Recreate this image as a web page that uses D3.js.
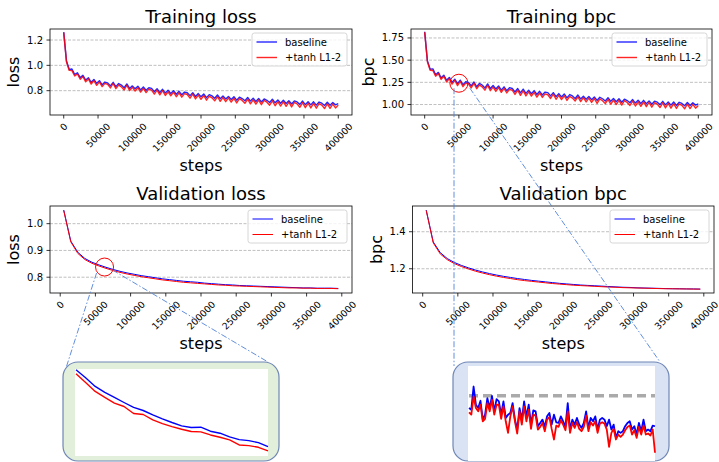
<!DOCTYPE html>
<html>
<head>
<meta charset="utf-8">
<script src="https://cdn.jsdelivr.net/npm/d3@7"></script>
<style>
  body { margin: 0; background: #fff; }
  svg { font-family: "DejaVu Sans", sans-serif; }
</style>
</head>
<body>
<svg id="fig" width="719" height="462"></svg>
<script>
// ---- data ----
const seriesNames = ["baseline", "+tanh L1-2"];
const seriesColors = ["#0000ff", "#ff0000"];

// training curves, one point every 4000 steps from 0 to 400000
const trainSteps = d3.range(0, 400001, 4000);

const trainLossBase = [
  1.262, 1.035, 0.968, 0.971, 0.928, 0.941, 0.903, 0.921, 0.884, 0.902,
  0.866, 0.889, 0.858, 0.879, 0.846, 0.868, 0.861, 0.838, 0.866, 0.832,
  0.856, 0.844, 0.823, 0.853, 0.818, 0.838, 0.815, 0.835, 0.806, 0.829,
  0.803, 0.823, 0.818, 0.792, 0.816, 0.785, 0.811, 0.781, 0.803, 0.778,
  0.800, 0.772, 0.795, 0.768, 0.789, 0.784, 0.761, 0.784, 0.754, 0.777,
  0.752, 0.774, 0.745, 0.769, 0.759, 0.740, 0.766, 0.737, 0.758, 0.734,
  0.755, 0.731, 0.752, 0.725, 0.749, 0.738, 0.721, 0.746, 0.718, 0.740,
  0.715, 0.738, 0.711, 0.735, 0.724, 0.707, 0.732, 0.704, 0.726, 0.701,
  0.725, 0.699, 0.721, 0.695, 0.719, 0.711, 0.692, 0.718, 0.690, 0.713,
  0.688, 0.712, 0.686, 0.710, 0.701, 0.683, 0.709, 0.685, 0.706, 0.688, 0.698
];
const trainLossTanh = [
  1.258, 1.028, 0.960, 0.958, 0.916, 0.932, 0.890, 0.912, 0.870, 0.893,
  0.852, 0.880, 0.842, 0.870, 0.832, 0.858, 0.850, 0.822, 0.857, 0.816,
  0.845, 0.830, 0.806, 0.843, 0.801, 0.826, 0.797, 0.824, 0.789, 0.818,
  0.785, 0.812, 0.804, 0.773, 0.805, 0.767, 0.800, 0.762, 0.791, 0.760,
  0.789, 0.752, 0.783, 0.749, 0.777, 0.770, 0.741, 0.773, 0.735, 0.765,
  0.732, 0.762, 0.725, 0.757, 0.744, 0.720, 0.754, 0.716, 0.746, 0.713,
  0.743, 0.710, 0.740, 0.703, 0.737, 0.723, 0.700, 0.734, 0.696, 0.728,
  0.693, 0.726, 0.689, 0.723, 0.709, 0.685, 0.720, 0.681, 0.714, 0.679,
  0.713, 0.676, 0.709, 0.672, 0.707, 0.696, 0.669, 0.706, 0.666, 0.701,
  0.664, 0.700, 0.662, 0.698, 0.686, 0.659, 0.697, 0.661, 0.694, 0.664, 0.686
];
const trainBpcBase = [
  1.820, 1.492, 1.398, 1.402, 1.336, 1.362, 1.301, 1.331, 1.274, 1.305,
  1.250, 1.286, 1.236, 1.275, 1.223, 1.257, 1.248, 1.211, 1.254, 1.200,
  1.238, 1.220, 1.186, 1.232, 1.180, 1.214, 1.175, 1.209, 1.162, 1.199,
  1.156, 1.190, 1.181, 1.141, 1.180, 1.132, 1.173, 1.126, 1.161, 1.122,
  1.157, 1.113, 1.149, 1.107, 1.140, 1.134, 1.097, 1.134, 1.088, 1.123,
  1.085, 1.119, 1.075, 1.112, 1.097, 1.068, 1.107, 1.063, 1.094, 1.059,
  1.090, 1.055, 1.086, 1.046, 1.082, 1.065, 1.040, 1.077, 1.036, 1.068,
  1.032, 1.065, 1.026, 1.061, 1.045, 1.020, 1.056, 1.016, 1.048, 1.012,
  1.047, 1.009, 1.041, 1.003, 1.038, 1.026, 0.999, 1.036, 0.996, 1.029,
  0.993, 1.028, 0.990, 1.025, 1.012, 0.986, 1.023, 0.989, 1.019, 0.993, 1.007
];
const trainBpcTanh = [
  1.815, 1.482, 1.386, 1.384, 1.319, 1.349, 1.283, 1.318, 1.254, 1.292,
  1.230, 1.273, 1.213, 1.261, 1.201, 1.242, 1.231, 1.187, 1.241, 1.178,
  1.222, 1.199, 1.162, 1.217, 1.156, 1.196, 1.148, 1.192, 1.137, 1.182,
  1.131, 1.171, 1.161, 1.114, 1.162, 1.104, 1.155, 1.097, 1.142, 1.095,
  1.138, 1.084, 1.130, 1.080, 1.120, 1.110, 1.068, 1.116, 1.059, 1.104,
  1.056, 1.099, 1.046, 1.092, 1.073, 1.040, 1.088, 1.033, 1.077, 1.029,
  1.072, 1.024, 1.068, 1.014, 1.064, 1.043, 1.010, 1.059, 1.005, 1.050,
  1.000, 1.047, 0.994, 1.043, 1.023, 0.989, 1.039, 0.983, 1.030, 0.980,
  1.029, 0.976, 1.023, 0.970, 1.020, 1.005, 0.966, 1.019, 0.962, 1.012,
  0.959, 1.010, 0.956, 1.007, 0.990, 0.952, 1.006, 0.955, 1.001, 0.959, 0.990
];

// validation curves, every 10000 steps from 5000 to 395000
const valSteps = d3.range(5000, 395001, 10000);

const valLossBase = [
  1.051, 0.935, 0.893, 0.870, 0.856, 0.846, 0.837, 0.829, 0.822, 0.816,
  0.811, 0.806, 0.802, 0.798, 0.794, 0.791, 0.788, 0.785, 0.783, 0.781,
  0.778, 0.776, 0.774, 0.772, 0.771, 0.769, 0.768, 0.767, 0.766, 0.765,
  0.764, 0.763, 0.762, 0.761, 0.760, 0.760, 0.759, 0.759, 0.759, 0.758
];
const valLossTanh = [
  1.049, 0.932, 0.889, 0.866, 0.852, 0.842, 0.833, 0.825, 0.818, 0.812,
  0.807, 0.802, 0.798, 0.794, 0.790, 0.787, 0.784, 0.781, 0.779, 0.777,
  0.775, 0.773, 0.771, 0.770, 0.768, 0.767, 0.766, 0.765, 0.764, 0.763,
  0.762, 0.761, 0.760, 0.760, 0.759, 0.759, 0.758, 0.758, 0.758, 0.757
];
const valBpcBase = [
  1.517, 1.345, 1.287, 1.255, 1.234, 1.218, 1.205, 1.193, 1.183, 1.174,
  1.166, 1.159, 1.153, 1.147, 1.142, 1.137, 1.133, 1.129, 1.125, 1.121,
  1.118, 1.115, 1.112, 1.110, 1.108, 1.106, 1.104, 1.102, 1.100, 1.099,
  1.097, 1.096, 1.095, 1.094, 1.093, 1.092, 1.092, 1.091, 1.091, 1.090
];
const valBpcTanh = [
  1.515, 1.340, 1.280, 1.249, 1.228, 1.212, 1.199, 1.187, 1.177, 1.168,
  1.160, 1.153, 1.147, 1.141, 1.136, 1.132, 1.128, 1.124, 1.120, 1.117,
  1.114, 1.111, 1.109, 1.107, 1.105, 1.103, 1.101, 1.100, 1.098, 1.097,
  1.096, 1.095, 1.094, 1.093, 1.092, 1.092, 1.091, 1.091, 1.090, 1.090
];

// zoomed-in view of validation loss (around 60k-70k steps)
const zoomLossSteps = d3.range(60000, 70001, 500);
const zoomLossBase = [
  0.83992, 0.83900, 0.83800, 0.83731, 0.83673, 0.83615, 0.83558, 0.83523, 0.83473, 0.83427,
  0.83385, 0.83346, 0.83327, 0.83331, 0.83285, 0.83262, 0.83219, 0.83188, 0.83177, 0.83154, 0.83108
];
const zoomLossTanh = [
  0.83946, 0.83846, 0.83742, 0.83673, 0.83608, 0.83569, 0.83488, 0.83477, 0.83415, 0.83373,
  0.83338, 0.83308, 0.83281, 0.83277, 0.83242, 0.83215, 0.83185, 0.83127, 0.83119, 0.83100, 0.83058
];

// zoomed-in view of training bpc (around 45k-55k steps)
const zoomBpcSteps = d3.range(45000, 55126, 125);
const zoomBpcBase = [
  1.2315, 1.229, 1.264, 1.2365, 1.2315, 1.2425, 1.214, 1.2215, 1.2465, 1.2315,
  1.250, 1.2265, 1.245, 1.2415, 1.2215, 1.2415, 1.2165, 1.2215, 1.224, 1.239,
  1.214, 1.199, 1.2315, 1.214, 1.2415, 1.219, 1.2365, 1.2065, 1.228, 1.2265,
  1.204, 1.209, 1.214, 1.203, 1.219, 1.224, 1.2065, 1.2215, 1.210, 1.209,
  1.219, 1.2115, 1.203, 1.239, 1.199, 1.214, 1.2065, 1.2165, 1.2065, 1.2015,
  1.209, 1.2265, 1.2015, 1.2165, 1.2115, 1.219, 1.199, 1.214, 1.2165, 1.214,
  1.204, 1.214, 1.199, 1.2065, 1.1865, 1.1965, 1.194, 1.1965, 1.204, 1.209,
  1.2115, 1.199, 1.204, 1.1915, 1.209, 1.1965, 1.214, 1.1965, 1.199, 1.1965,
  1.205, 1.204
];
const zoomBpcTanh = [
  1.225, 1.2215, 1.249, 1.2315, 1.2265, 1.2365, 1.2115, 1.215, 1.239, 1.2265,
  1.244, 1.2215, 1.2365, 1.2365, 1.215, 1.234, 1.2115, 1.194, 1.219, 1.234,
  1.2115, 1.193, 1.2265, 1.2065, 1.234, 1.2115, 1.229, 1.200, 1.2215, 1.220,
  1.199, 1.203, 1.209, 1.1965, 1.214, 1.218, 1.200, 1.184, 1.205, 1.203,
  1.213, 1.2065, 1.198, 1.2265, 1.194, 1.209, 1.2015, 1.210, 1.200, 1.1965,
  1.203, 1.220, 1.1965, 1.210, 1.205, 1.2115, 1.194, 1.208, 1.210, 1.208,
  1.199, 1.173, 1.194, 1.200, 1.184, 1.1915, 1.188, 1.1915, 1.198, 1.203,
  1.205, 1.1915, 1.198, 1.1865, 1.203, 1.1915, 1.205, 1.1915, 1.193, 1.190,
  1.199, 1.164
];

const xTicks = d3.range(0, 400001, 50000);

// ---- drawing ----
const svg = d3.select("#fig");

function padExtent(arr) {
  const [a, b] = d3.extent(arr);
  const m = (b - a) * 0.05;
  return [a - m, b + m];
}

function drawPanel(p) {
  const x = d3.scaleLinear().domain(padExtent(p.steps)).range([p.left, p.right]);
  const y = d3.scaleLinear().domain(p.yDomain).range([p.bottom, p.top]);
  const g = svg.append("g");

  // grid
  g.selectAll(".grid").data(p.yTicks).enter().append("line")
    .attr("x1", p.left).attr("x2", p.right)
    .attr("y1", d => y(d)).attr("y2", d => y(d))
    .attr("stroke", "#b0b0b0").attr("stroke-width", 0.8)
    .attr("stroke-dasharray", "3,1.5");

  // lines
  const line = d3.line().x((d, i) => x(p.steps[i])).y(d => y(d));
  p.series.forEach((s, i) => {
    g.append("path").datum(s)
      .attr("fill", "none")
      .attr("stroke", seriesColors[i])
      .attr("stroke-width", p.lineW)
      .attr("stroke-opacity", p.alpha)
      .attr("stroke-linejoin", "round")
      .attr("d", line);
  });

  // frame
  g.append("rect").attr("x", p.left).attr("y", p.top)
    .attr("width", p.right - p.left).attr("height", p.bottom - p.top)
    .attr("fill", "none").attr("stroke", "#000").attr("stroke-width", 0.8);

  // y ticks
  const yLab = [];
  p.yTicks.forEach(t => {
    g.append("line").attr("x1", p.left - 3.5).attr("x2", p.left)
      .attr("y1", y(t)).attr("y2", y(t)).attr("stroke", "#000").attr("stroke-width", 0.8);
    yLab.push(g.append("text").attr("x", p.left - 7).attr("y", y(t))
      .attr("text-anchor", "end").attr("dominant-baseline", "central")
      .style("font-size", "10px").text(p.yFmt(t)));
  });
  const maxW = d3.max(yLab, t => t.node().getComputedTextLength());

  // x ticks, rotated 45 degrees and centred under the tick
  xTicks.forEach(t => {
    g.append("line").attr("x1", x(t)).attr("x2", x(t))
      .attr("y1", p.bottom).attr("y2", p.bottom + 3.5).attr("stroke", "#000").attr("stroke-width", 0.8);
    const lab = g.append("text").attr("text-anchor", "middle").attr("dominant-baseline", "central")
      .style("font-size", "9.3px").text(t);
    const w = lab.node().getComputedTextLength();
    const off = 7 + (w + 7.5) * 0.3536;
    lab.attr("transform", `translate(${x(t)},${p.bottom + off}) rotate(-45)`);
  });

  // title and axis labels
  g.append("text").attr("x", (p.left + p.right) / 2).attr("y", p.top - 6)
    .attr("text-anchor", "middle").style("font-size", "18px").text(p.title);
  g.append("text").attr("x", (p.left + p.right) / 2).attr("y", p.bottom + 56)
    .attr("text-anchor", "middle").style("font-size", "16px").text("steps");
  g.append("text")
    .attr("transform", `translate(${p.left - 7 - maxW - 8},${(p.top + p.bottom) / 2}) rotate(-90)`)
    .attr("text-anchor", "middle").style("font-size", "16px").text(p.ylabel);

  // legend
  const lw = p.legendW, lx = p.right - 5 - lw, ly = p.top + 4;
  const lg = g.append("g");
  lg.append("rect").attr("x", lx).attr("y", ly).attr("width", lw).attr("height", 33)
    .attr("rx", 2.5).attr("fill", "#fff").attr("fill-opacity", 0.8)
    .attr("stroke", "#cccccc").attr("stroke-width", 0.8);
  seriesNames.forEach((n, i) => {
    const yy = ly + 9 + i * 15.5;
    lg.append("line").attr("x1", lx + 4.5).attr("x2", lx + 25).attr("y1", yy).attr("y2", yy)
      .attr("stroke", seriesColors[i]).attr("stroke-width", p.lineW).attr("stroke-opacity", p.alpha);
    lg.append("text").attr("x", lx + 33).attr("y", yy).attr("dominant-baseline", "central")
      .style("font-size", "10px").text(n);
  });
  return { x, y };
}

const tl = drawPanel({
  left: 50, right: 352, top: 29, bottom: 115, title: "Training loss", ylabel: "loss",
  steps: trainSteps, series: [trainLossBase, trainLossTanh],
  yDomain: [0.608, 1.287], yTicks: [0.8, 1.0, 1.2], yFmt: d3.format(".1f"),
  lineW: 1.4, alpha: 0.85, legendW: 95
});
const tr = drawPanel({
  left: 411, right: 712, top: 29, bottom: 115, title: "Training bpc", ylabel: "bpc",
  steps: trainSteps, series: [trainBpcBase, trainBpcTanh],
  yDomain: [0.882, 1.851], yTicks: [1.0, 1.25, 1.5, 1.75], yFmt: d3.format(".2f"),
  lineW: 1.4, alpha: 0.85, legendW: 95
});
const bl = drawPanel({
  left: 50, right: 352, top: 206, bottom: 293, title: "Validation loss", ylabel: "loss",
  steps: valSteps, series: [valLossBase, valLossTanh],
  yDomain: [0.741, 1.066], yTicks: [0.8, 0.9, 1.0], yFmt: d3.format(".1f"),
  lineW: 1, alpha: 1, legendW: 99
});
const br = drawPanel({
  left: 412.5, right: 714, top: 206, bottom: 293, title: "Validation bpc", ylabel: "bpc",
  steps: valSteps, series: [valBpcBase, valBpcTanh],
  yDomain: [1.069, 1.539], yTicks: [1.2, 1.4], yFmt: d3.format(".1f"),
  lineW: 1, alpha: 1, legendW: 99
});

// ---- zoom annotations ----
const boxL = { x: 63, y: 362, w: 216, h: 99, fill: "#e2efda" };
const boxR = { x: 453, y: 362, w: 216, h: 99, fill: "#dae3f3" };
const connColor = "#4f81d9";

function connector(x1, y1, x2, y2) {
  svg.append("line").attr("x1", x1).attr("y1", y1).attr("x2", x2).attr("y2", y2)
    .attr("stroke", connColor).attr("stroke-width", 0.9)
    .attr("stroke-dasharray", "6,2,1.5,2");
}

// circle on validation loss
const cL = [bl.x(63000), bl.y(0.838)];
svg.append("circle").attr("cx", cL[0]).attr("cy", cL[1]).attr("r", 9)
  .attr("fill", "none").attr("stroke", "#ff0000").attr("stroke-width", 1);
connector(cL[0] - 8, cL[1] + 6, boxL.x + 3, boxL.y + 6);
connector(cL[0] + 8, cL[1] + 3, boxL.x + boxL.w - 11, boxL.y);

// circle on training bpc
const cR = [tr.x(50000), tr.y(1.24)];
svg.append("circle").attr("cx", cR[0]).attr("cy", cR[1]).attr("r", 9)
  .attr("fill", "none").attr("stroke", "#ff0000").attr("stroke-width", 1);
connector(boxR.x + 1, cR[1] + 5, boxR.x + 1, boxR.y + 4);
connector(cR[0] + 11, cR[1] + 5, boxR.x + boxR.w - 9, boxR.y);

function insetBox(b, inner, steps, series, yDomain, lw, extra) {
  svg.append("rect").attr("x", b.x).attr("y", b.y).attr("width", b.w).attr("height", b.h)
    .attr("rx", 15).attr("fill", b.fill).attr("stroke", "#6f86b6").attr("stroke-width", 1.2);
  svg.append("rect").attr("x", inner.x0).attr("y", inner.y0)
    .attr("width", inner.x1 - inner.x0).attr("height", inner.y1 - inner.y0).attr("fill", "#fff");
  const x = d3.scaleLinear().domain(d3.extent(steps)).range([inner.x0 + 1, inner.x1]);
  const y = d3.scaleLinear().domain(yDomain).range([inner.y1, inner.y0]);
  if (extra) extra(x, y);
  const line = d3.line().x((d, i) => x(steps[i])).y(d => y(d));
  series.forEach((s, i) => {
    svg.append("path").datum(s).attr("fill", "none")
      .attr("stroke", seriesColors[i]).attr("stroke-width", lw)
      .attr("stroke-linejoin", "round").attr("d", line);
  });
}

insetBox(boxL, { x0: 75, y0: 369, x1: 268, y1: 456 },
  zoomLossSteps, [zoomLossBase, zoomLossTanh], [0.830, 0.840], 1.4);

insetBox(boxR, { x0: 468, y0: 366, x1: 655, y1: 461 },
  zoomBpcSteps, [zoomBpcBase, zoomBpcTanh], [1.1515, 1.295], 1.8,
  (x, y) => {
    // the 1.25 grid line, magnified
    svg.append("line").attr("x1", x.range()[0]).attr("x2", x.range()[1])
      .attr("y1", y(1.25)).attr("y2", y(1.25))
      .attr("stroke", "#aaaaaa").attr("stroke-width", 3.5).attr("stroke-dasharray", "9,5");
  });
</script>
</body>
</html>
